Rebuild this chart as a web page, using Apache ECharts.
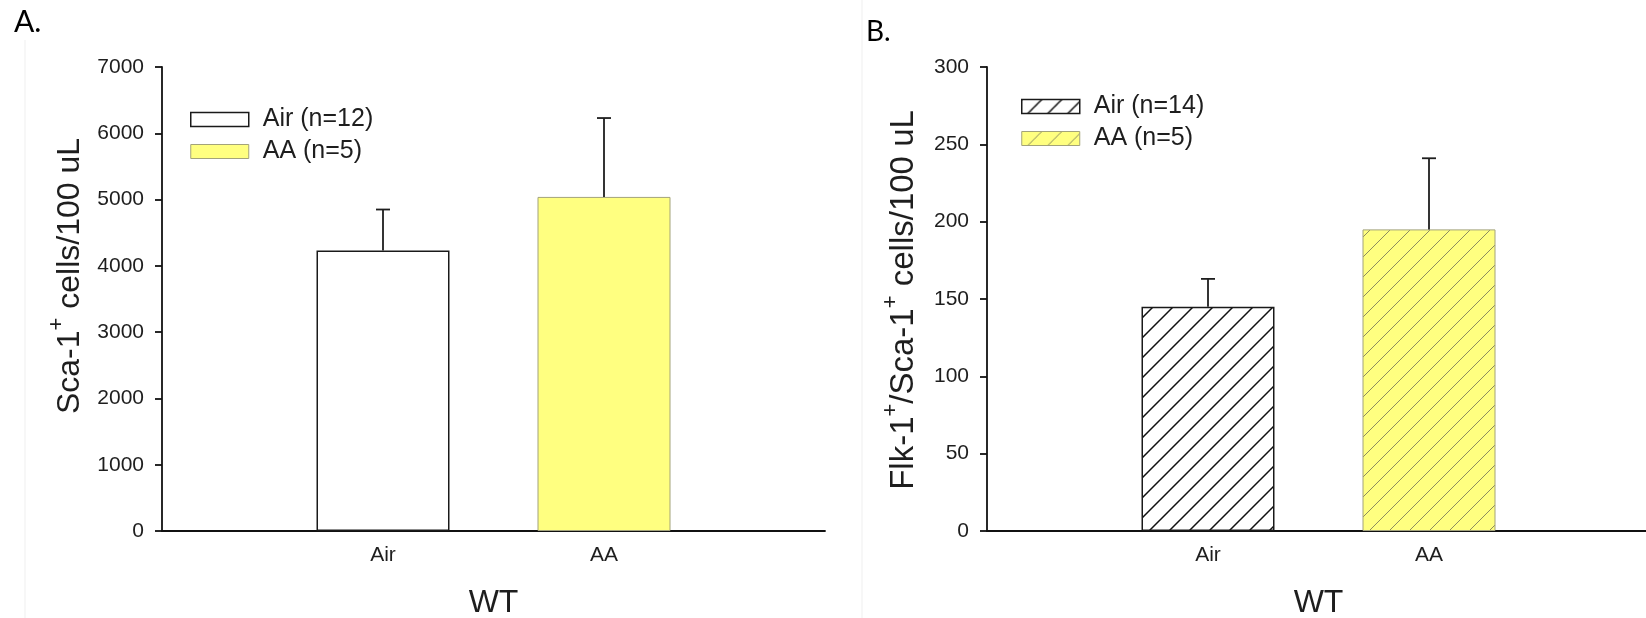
<!DOCTYPE html>
<html>
<head>
<meta charset="utf-8">
<script src="https://cdn.jsdelivr.net/npm/echarts@6/dist/echarts.min.js"></script>
<style>
html,body{margin:0;padding:0;background:#fff;}
#chart{width:1646px;height:618px;}
</style>
</head>
<body>
<div id="chart"></div>
<script>
// ---- data ----
const xCategories = ['Air', 'AA'];
const xPositions = [1, 2];
const groupLabel = 'WT';

const legendA = ['Air (n=12)', 'AA (n=5)'];
const meansA = [4230, 5040];
const errorsA = [620, 1190];

const legendB = ['Air (n=14)', 'AA (n=5)'];
const meansB = [145, 195];
const errorsB = [18, 46];

const panelLabels = ['A.', 'B.'];
// ---- styles ----
const FONT = "'Liberation Sans', Arial, sans-serif";
const YELLOW = '#ffff80';
const TXT = '#1e1e1e';

function hatch(bg, stroke, lw) {
  const c = document.createElement('canvas');
  c.width = 20; c.height = 20;
  const g = c.getContext('2d');
  g.fillStyle = bg; g.fillRect(0, 0, 20, 20);
  g.strokeStyle = stroke; g.lineWidth = lw;
  g.beginPath();
  g.moveTo(-2, 22); g.lineTo(22, -2);
  g.moveTo(-12, 12); g.lineTo(12, -12);
  g.moveTo(8, 32); g.lineTo(32, 8);
  g.stroke();
  return { image: c, repeat: 'repeat' };
}
const hatchBlack = hatch('#ffffff', '#111111', 1.5);
const hatchYellow = hatch(YELLOW, '#8c8c60', 1);

const styleA = [
  { color: '#ffffff', borderColor: '#1a1a1a', borderWidth: 1.5 },
  { color: YELLOW, borderColor: '#a3a37a', borderWidth: 1 }
];
const styleB = [
  { color: hatchBlack, borderColor: '#1a1a1a', borderWidth: 1.5 },
  { color: hatchYellow, borderColor: '#a3a37a', borderWidth: 1 }
];

const chart = echarts.init(document.getElementById('chart'), null, { renderer: 'canvas' });

function xAxisFor(gi) {
  return {
    type: 'value', gridIndex: gi, min: 0, max: 3, interval: 1,
    splitLine: { show: false },
    axisTick: { show: false },
    axisLine: { show: true, lineStyle: { color: '#111111', width: 1.8 } },
    axisLabel: {
      fontFamily: FONT, fontSize: 21, color: TXT, margin: 14,
      formatter: v => { const i = xPositions.indexOf(v); return i >= 0 ? xCategories[i] : ''; }
    },
    name: groupLabel, nameLocation: 'middle', nameGap: 56,
    nameTextStyle: { fontFamily: FONT, fontSize: 32, color: TXT }
  };
}
function yAxisFor(gi, max, interval) {
  return {
    type: 'value', gridIndex: gi, min: 0, max: max, interval: interval,
    splitLine: { show: false },
    axisLine: { show: true, lineStyle: { color: '#111111', width: 1.8 } },
    axisTick: { show: true, inside: false, length: 7, lineStyle: { color: '#111111', width: 1.8 } },
    axisLabel: { fontFamily: FONT, fontSize: 21, color: TXT, margin: 18, formatter: v => String(v) }
  };
}
function barSeries(gi, name, idx, means, style) {
  return {
    type: 'bar', name: name, xAxisIndex: gi, yAxisIndex: gi,
    barWidth: 133, barGap: '-100%',
    itemStyle: style,
    emphasis: { disabled: true },
    data: [[xPositions[idx], means[idx]]]
  };
}
function errSeries(gi, means, errs) {
  return {
    type: 'custom', xAxisIndex: gi, yAxisIndex: gi, z: 5, silent: true,
    data: means.map((m, i) => [xPositions[i], m, errs[i]]),
    renderItem: (params, api) => {
      const x = api.value(0), m = api.value(1), e = api.value(2);
      const p0 = api.coord([x, m]);
      const p1 = api.coord([x, m + e]);
      const st = { stroke: '#1e1e1e', lineWidth: 1.8 };
      return {
        type: 'group', children: [
          { type: 'line', shape: { x1: p0[0], y1: p0[1], x2: p1[0], y2: p1[1] }, style: st },
          { type: 'line', shape: { x1: p1[0] - 7, y1: p1[1], x2: p1[0] + 7, y2: p1[1] }, style: st }
        ]
      };
    }
  };
}
function legendFor(names, styles, left, top) {
  return {
    orient: 'vertical', left: left, top: top, padding: 0,
    itemWidth: 58, itemHeight: 14, itemGap: 7, icon: 'rect',
    selectedMode: false,
    textStyle: { fontFamily: FONT, fontSize: 25, color: TXT, lineHeight: 25, padding: [0, 0, 0, 9] },
    data: names.map((n, i) => ({ name: n, icon: 'rect', itemStyle: styles[i] }))
  };
}
function yTitle(x, y, parts, size) {
  return {
    type: 'text', x: x, y: y, rotation: Math.PI / 2,
    style: {
      text: parts, align: 'center', verticalAlign: 'middle',
      fontFamily: FONT, fontSize: size, fill: TXT,
      rich: {
        n: { fontFamily: FONT, fontSize: size, fill: TXT, lineHeight: 40, verticalAlign: 'bottom' },
        s: { fontFamily: FONT, fontSize: 22, fill: TXT, lineHeight: 40, verticalAlign: 'top' }
      }
    }
  };
}

const option = {
  animation: false,
  backgroundColor: '#ffffff',
  grid: [
    { left: 162, top: 67, width: 663, height: 464, containLabel: false, outerBoundsMode: 'none' },
    { left: 987, top: 67, width: 663, height: 464, containLabel: false, outerBoundsMode: 'none' }
  ],
  xAxis: [xAxisFor(0), xAxisFor(1)],
  yAxis: [yAxisFor(0, 7000, 1000), yAxisFor(1, 300, 50)],
  legend: [
    legendFor(legendA, styleA, 190, 107),
    legendFor(legendB, styleB, 1021, 94)
  ],
  series: [
    barSeries(0, legendA[0], 0, meansA, styleA[0]),
    barSeries(0, legendA[1], 1, meansA, styleA[1]),
    errSeries(0, meansA, errorsA),
    barSeries(1, legendB[0], 0, meansB, styleB[0]),
    barSeries(1, legendB[1], 1, meansB, styleB[1]),
    errSeries(1, meansB, errorsB)
  ],
  graphic: [
    { type: 'line', shape: { x1: 25, y1: 40, x2: 25, y2: 618 }, style: { stroke: '#efefef', lineWidth: 1 }, silent: true },
    { type: 'line', shape: { x1: 862, y1: 0, x2: 862, y2: 618 }, style: { stroke: '#efefef', lineWidth: 1 }, silent: true },
    { type: 'text', x: 14, y: 22, style: { text: panelLabels[0], fontFamily: 'Lato, sans-serif', fontSize: 30, fill: '#000', verticalAlign: 'middle' } },
    { type: 'text', x: 866, y: 32, style: { text: panelLabels[1], fontFamily: 'Lato, sans-serif', fontSize: 28, fill: '#000', verticalAlign: 'middle' } },
    yTitle(66, 276, '{n|Sca-1}{s|+}{n| cells/100 uL}', 32),
    yTitle(900, 300, '{n|Flk-1}{s|+}{n|/Sca-1}{s|+}{n| cells/100 uL}', 33)
  ]
};
chart.setOption(option);
</script>
</body>
</html>
